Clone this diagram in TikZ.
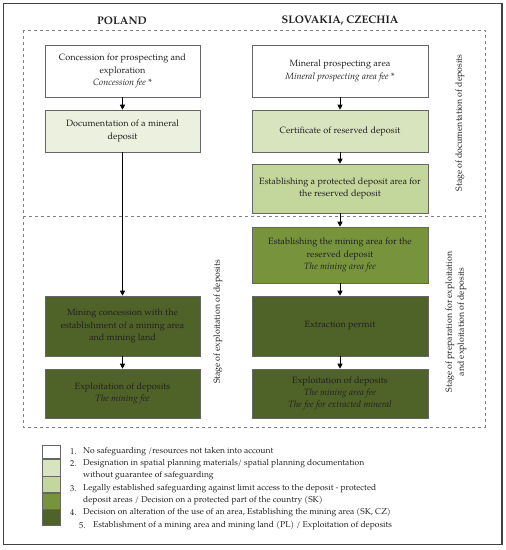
\documentclass[tikz,border=0pt]{standalone}
\usepackage{fontspec}
\setmainfont{TeX Gyre Pagella}
\usetikzlibrary{arrows.meta}
\definecolor{txt}{HTML}{222222}
\definecolor{frame}{HTML}{404040}
\definecolor{gA}{HTML}{EBF1DE}
\definecolor{gB}{HTML}{D7E4BD}
\definecolor{gC}{HTML}{C3D69B}
\definecolor{gD}{HTML}{77933C}
\definecolor{gE}{HTML}{4F6228}
\tikzset{
  box/.style={draw=frame!80, line width=0.6pt, inner sep=0pt, align=center, text=txt,
    font=\fontsize{9.1}{12.4}\selectfont},
  lbox/.style={box, minimum width=155pt},
  rbox/.style={box, minimum width=176pt},
  arr/.style={-{Triangle[length=5pt,width=5pt]}, line width=0.7pt, black},
  ttl/.style={font=\fontsize{11}{13}\selectfont\bfseries, text=txt},
  stage/.style={rotate=90, align=center, text=txt, font=\fontsize{8.8}{12}\selectfont},
  leg/.style={anchor=west, inner sep=0pt, text=txt, font=\fontsize{8.5}{11}\selectfont},
  band/.style={draw=frame!80, line width=0.6pt, minimum width=18pt, inner sep=0pt},
  dashline/.style={dashed, draw=gray, line width=0.7pt}
}
\begin{document}
\begin{tikzpicture}[x=1pt,y=-1pt]
\useasboundingbox (0,0) rectangle (506,550);
\draw[frame, line width=1.2pt] (3.5,3.5) rectangle (502,544.5);
% titles
\node[ttl] (tpl) at (122,21) {POLAND};
\node[ttl] (tsk) at (340,21) {SLOVAKIA, CZECHIA};
% dashed stage frame
\draw[dashline] (23,30) rectangle (485,427);
\draw[dashline] (23,216) -- (485,216);
% left column
\node[lbox, fill=white, minimum height=52pt] (l1) at (122.5,71) {Concession for prospecting and\\exploration\\\textit{Concession fee *}};
\node[lbox, fill=gA, minimum height=42pt] (l2) at (122.5,131) {Documentation of a mineral\\deposit};
\node[lbox, fill=gE, minimum height=60pt] (l3) at (122.5,326) {Mining concession with the\\establishment of a mining area\\and mining land};
\node[lbox, fill=gE, minimum height=49pt] (l4) at (122.5,393.5) {Exploitation of deposits\\\textit{The mining fee}};
% right column
\node[rbox, fill=white, minimum height=52pt] (r1) at (340,71) {Mineral prospecting area\\\textit{Mineral prospecting area fee *}};
\node[rbox, fill=gB, minimum height=42pt] (r2) at (340,131) {Certificate of reserved deposit};
\node[rbox, fill=gC, minimum height=49pt] (r3) at (340,188.5) {Establishing a protected deposit area for\\the reserved deposit};
\node[rbox, fill=gD, minimum height=56pt] (r4) at (340,255) {Establishing the mining area for the\\reserved deposit\\\textit{The mining area fee}};
\node[rbox, fill=gE, minimum height=60pt] (r5) at (340,326) {Extraction permit};
\node[rbox, fill=gE, minimum height=49pt] (r6) at (340,393.5) {Exploitation of deposits\\\textit{The mining area fee}\\\textit{The fee for extracted mineral}};
% arrows
\draw[arr] (l1) -- (l2);
\draw[arr] (l2) -- (l3);
\draw[arr] (l3) -- (l4);
\draw[arr] (r1) -- (r2);
\draw[arr] (r2) -- (r3);
\draw[arr] (r3) -- (r4);
\draw[arr] (r4) -- (r5);
\draw[arr] (r5) -- (r6);
% stage labels
\node[stage] (s1) at (460,123) {Stage of documentation of deposits};
\node[stage] (s2) at (218,322) {Stage of exploitation of deposits};
\node[stage] (s3) at (456,322) {Stage of preparation for exploitation\\and exploitation of deposits};
% legend
\node[band, fill=white, minimum height=13pt, anchor=north west] (b1) at (42,445) {};
\node[band, fill=gB, minimum height=17pt, anchor=north west] (b2) at (b1.south west) {};
\node[band, fill=gC, minimum height=16pt, anchor=north west] (b3) at (b2.south west) {};
\node[band, fill=gD, minimum height=16pt, anchor=north west] (b4) at (b3.south west) {};
\node[band, fill=gE, minimum height=16pt, anchor=north west] (b5) at (b4.south west) {};
\node[leg] (n1) at (70,452) {1.};
\node[leg] (t1) at (83,452) {No safeguarding /resources not taken into account};
\node[leg] (n2) at (70,464) {2.};
\node[leg] (t2) at (83,464) {Designation in spatial planning materials/ spatial planning documentation};
\node[leg] (t2b) at (83,476) {without guarantee of safeguarding};
\node[leg] (n3) at (70,489) {3.};
\node[leg] (t3) at (83,489) {Legally established safeguarding against limit access to the deposit - protected};
\node[leg] (t3b) at (83,501) {deposit areas / Decision on a protected part of the country (SK)};
\node[leg] (n4) at (70,513) {4.};
\node[leg] (t4) at (83,513) {Decision on alteration of the use of an area, Establishing the mining area (SK, CZ)};
\node[leg] (n5) at (79,526) {5.};
\node[leg] (t5) at (93,526) {Establishment of a mining area and mining land (PL) / Exploitation of deposits};
\end{tikzpicture}
\end{document}
